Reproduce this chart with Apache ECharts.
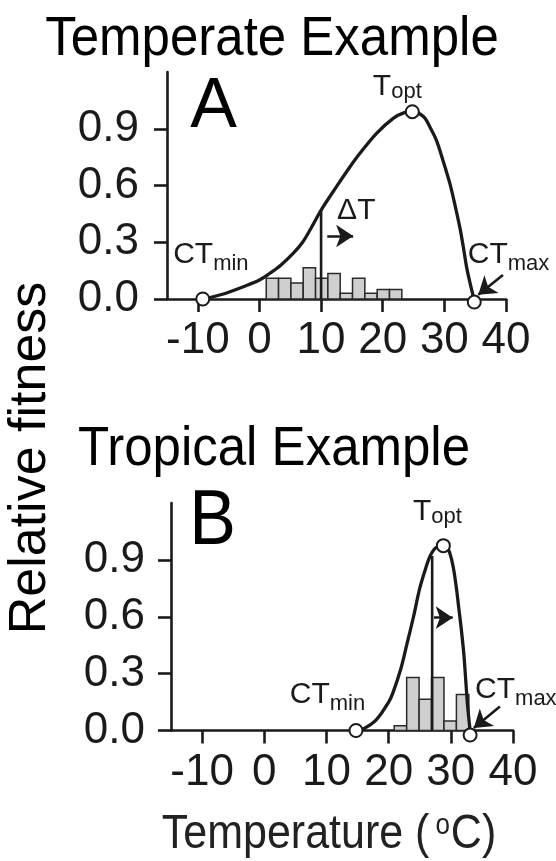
<!DOCTYPE html>
<html><head><meta charset="utf-8">
<script src="https://cdn.jsdelivr.net/npm/echarts@6/dist/echarts.min.js"></script>
<style>html,body{margin:0;padding:0;background:#fff}#c{width:556px;height:861px}</style>
</head><body><div id="c"></div>
<script>
// ---------- data ----------
const xTicks = [-10, 0, 10, 20, 30, 40];
const yTicks = [0, 0.3, 0.6, 0.9];

// Panel A: temperate
const curveA_T = [-9.2, -6, -2.6, 0, 1.7, 3.5, 5.5, 7, 8.2, 10.2, 12.5, 14.5, 16.3, 19, 21.7, 23.5, 24.8, 26.6, 27.8, 28.7, 29.8, 30.9, 31.7, 32.5, 33.1, 33.6, 34.2, 34.8];
const curveA_W = [0, 0.025, 0.065, 0.1, 0.136, 0.18, 0.242, 0.3, 0.365, 0.48, 0.594, 0.69, 0.77, 0.876, 0.955, 0.985, 0.99, 0.965, 0.9, 0.84, 0.73, 0.61, 0.5, 0.38, 0.27, 0.17, 0.08, 0];
const histA_lo = [1.1, 3.1, 5.1, 7.1, 9.1, 11.1, 13.1, 15.1, 17.1, 19.1, 21.1];
const histA_h  = [0.11, 0.11, 0.085, 0.165, 0.11, 0.135, 0.03, 0.11, 0.03, 0.05, 0.05];
const pointsA_T = [-9.2, 24.8, 34.85];
const pointsA_W = [0, 0.99, -0.016];
const shiftA_T = 10, shiftA_top = 0.47;

// Panel B: tropical
const curveB_T = [14.75, 16, 18, 20, 20.7, 22, 22.9, 24, 25, 26, 26.6, 27.3, 28, 28.8, 29.3, 29.8, 30.4, 30.9, 31.3, 31.7, 32.1, 32.4, 32.7, 33.1];
const curveB_W = [0, 0.01, 0.056, 0.15, 0.2, 0.33, 0.45, 0.6, 0.75, 0.86, 0.915, 0.955, 0.972, 0.975, 0.97, 0.94, 0.86, 0.75, 0.64, 0.53, 0.4, 0.265, 0.13, 0];
const histB_lo = [20.9, 22.9, 24.9, 26.9, 28.9, 30.9];
const histB_h  = [0.025, 0.28, 0.165, 0.28, 0.05, 0.19];
const pointsB_T = [14.75, 28.8, 33.1];
const pointsB_W = [0, 0.975, -0.024];
const shiftB_T = 27, shiftB_top = 0.92;

const binWidth = 2;

// ---------- styling ----------
const FONT = "'Liberation Sans', Arial, Helvetica, sans-serif";
const INK = '#1a1a1a';

const zip = (a, b) => a.map((v, i) => [v, b[i]]);

function histSeries(lo, h, idx) {
  return {
    type: 'custom', xAxisIndex: idx, yAxisIndex: idx, z: 2,
    data: lo.map((v, i) => [v, v + binWidth, h[i]]),
    encode: { x: [0, 1], y: 2 },
    renderItem: (params, api) => {
      const p0 = api.coord([api.value(0), 0]);
      const p1 = api.coord([api.value(1), api.value(2)]);
      return { type: 'rect', shape: { x: p0[0], y: p1[1], width: p1[0] - p0[0], height: p0[1] - p1[1] },
        style: { fill: '#cfcfcf', stroke: '#2a2a2a', lineWidth: 1.5 } };
    }
  };
}
function lineSeries(data, idx, smooth, z, w) {
  return { type: 'line', xAxisIndex: idx, yAxisIndex: idx, data, smooth, symbol: 'none', z,
    lineStyle: { color: INK, width: w }, clip: false, silent: true };
}
function arrowSeries(list, idx) {
  return { type: 'lines', coordinateSystem: 'cartesian2d', xAxisIndex: idx, yAxisIndex: idx, z: 5,
    symbol: ['none', 'arrow'], symbolSize: [15, 17],
    lineStyle: { color: INK, width: 2.6, opacity: 1 }, itemStyle: { color: INK },
    data: list.map(c => ({ coords: c })) };
}
function pointSeries(data, idx) {
  return { type: 'scatter', xAxisIndex: idx, yAxisIndex: idx, data, symbol: 'circle', symbolSize: 13, z: 6, clip: false,
    itemStyle: { color: '#fff', borderColor: INK, borderWidth: 2, opacity: 1 } };
}
const rich = {
  m: { fontSize: 30, fontFamily: FONT, color: INK, verticalAlign: 'bottom', padding: [0, 0, 5, 0] },
  t: { fontSize: 30, fontFamily: FONT, color: INK, verticalAlign: 'bottom', padding: [0, 0, 1, 0] },
  s: { fontSize: 22, fontFamily: FONT, color: INK, verticalAlign: 'bottom' },
  d: { fontSize: 30, fontFamily: FONT, color: INK }
};
function labelSeries(items, idx) {
  return { type: 'scatter', xAxisIndex: idx, yAxisIndex: idx, symbolSize: 1, z: 7, clip: false, silent: true,
    itemStyle: { color: 'rgba(0,0,0,0)', opacity: 1 },
    data: items.map(it => ({ value: it.at, label: { show: true, position: 'inside', align: 'left', verticalAlign: 'middle',
      color: INK, opacity: 1, textBorderWidth: 0, formatter: it.text, rich } })) };
}

function xAxis(idx) {
  return { type: 'value', gridIndex: idx, min: -15, max: 40,
    axisLine: { show: true, onZero: false, lineStyle: { color: INK, width: 2.6 } },
    axisTick: { show: true, customValues: xTicks, length: 13, lineStyle: { color: INK, width: 2.6 } },
    axisLabel: { customValues: xTicks, fontSize: 44, fontFamily: FONT, color: INK, margin: 20 },
    splitLine: { show: false } };
}
function yAxis(idx, margin) {
  return { type: 'value', gridIndex: idx, min: 0, max: 1.2,
    axisLine: { show: true, onZero: false, lineStyle: { color: INK, width: 2.6 } },
    axisTick: { show: true, customValues: yTicks, length: 13, lineStyle: { color: INK, width: 2.6 } },
    axisLabel: { customValues: yTicks, fontSize: 44, fontFamily: FONT, color: INK, margin,
      formatter: v => v.toFixed(1) },
    splitLine: { show: false } };
}

function gText(text, x, y, size, opts) {
  return Object.assign({ type: 'text', x, y, z: 10,
    style: { text, fontSize: size, fontFamily: FONT, fill: '#000', align: 'center', verticalAlign: 'middle' } }, opts || {});
}

const option = {
  animation: false,
  grid: [
    { left: 167, top: 72, width: 339, height: 227 },
    { left: 171, top: 503, width: 342, height: 227.5 }
  ],
  xAxis: [xAxis(0), xAxis(1)],
  yAxis: [yAxis(0, 28), yAxis(1, 26)],
  series: [
    histSeries(histA_lo, histA_h, 0),
    lineSeries([[shiftA_T, 0], [shiftA_T, shiftA_top]], 0, false, 3, 2.6),
    lineSeries(zip(curveA_T, curveA_W), 0, 0.35, 4, 3.3),
    arrowSeries([[[11.0, 0.333], [15.2, 0.333]], [[39.5, 0.127], [35.5, 0.022]]], 0),
    pointSeries(zip(pointsA_T, pointsA_W), 0),
    labelSeries([
      { at: [18.4, 1.118], text: '{t|T}{s|opt}' },
      { at: [-14.0, 0.222], text: '{m|CT}{s|min}' },
      { at: [33.8, 0.222], text: '{m|CT}{s|max}' },
      { at: [12.6, 0.465], text: '{d|ΔT}' }
    ], 0),

    histSeries(histB_lo, histB_h, 1),
    lineSeries([[shiftB_T, 0], [shiftB_T, shiftB_top]], 1, false, 3, 2.6),
    lineSeries(zip(curveB_T, curveB_W), 1, 0.35, 4, 3.3),
    arrowSeries([[[27.3, 0.595], [30.3, 0.595]], [[37.9, 0.126], [33.7, 0.013]]], 1),
    pointSeries(zip(pointsB_T, pointsB_W), 1),
    labelSeries([
      { at: [23.9, 1.15], text: '{t|T}{s|opt}' },
      { at: [4.1, 0.174], text: '{m|CT}{s|min}' },
      { at: [33.9, 0.2], text: '{m|CT}{s|max}' }
    ], 1)
  ],
  graphic: [
    gText('Temperate Example', 272, 40, 51, { scaleY: 1.1 }),
    gText('Tropical Example', 274, 450, 51, { scaleY: 1.1 }),
    gText('A', 213.5, 108, 70),
    gText('B', 212.5, 522.5, 70, { scaleY: 1.1 }),
    gText('Relative fitness', 31, 458, 52, { rotation: Math.PI / 2 }),
    { type: 'text', x: 329, y: 835, z: 10, scaleY: 1.1,
      style: { text: '{a|Temperature (}{p|o}{a|C)}', align: 'center', verticalAlign: 'middle',
        rich: { a: { fontSize: 43, fontFamily: FONT, fill: '#222', color: '#222', verticalAlign: 'top' },
                p: { fontSize: 26, fontFamily: FONT, fill: '#222', color: '#222', verticalAlign: 'top', padding: [0, 1, 0, 6] } } } }
  ]
};

const chart = echarts.init(document.getElementById('c'), null, { renderer: 'canvas' });
chart.setOption(option);
</script>
</body></html>
